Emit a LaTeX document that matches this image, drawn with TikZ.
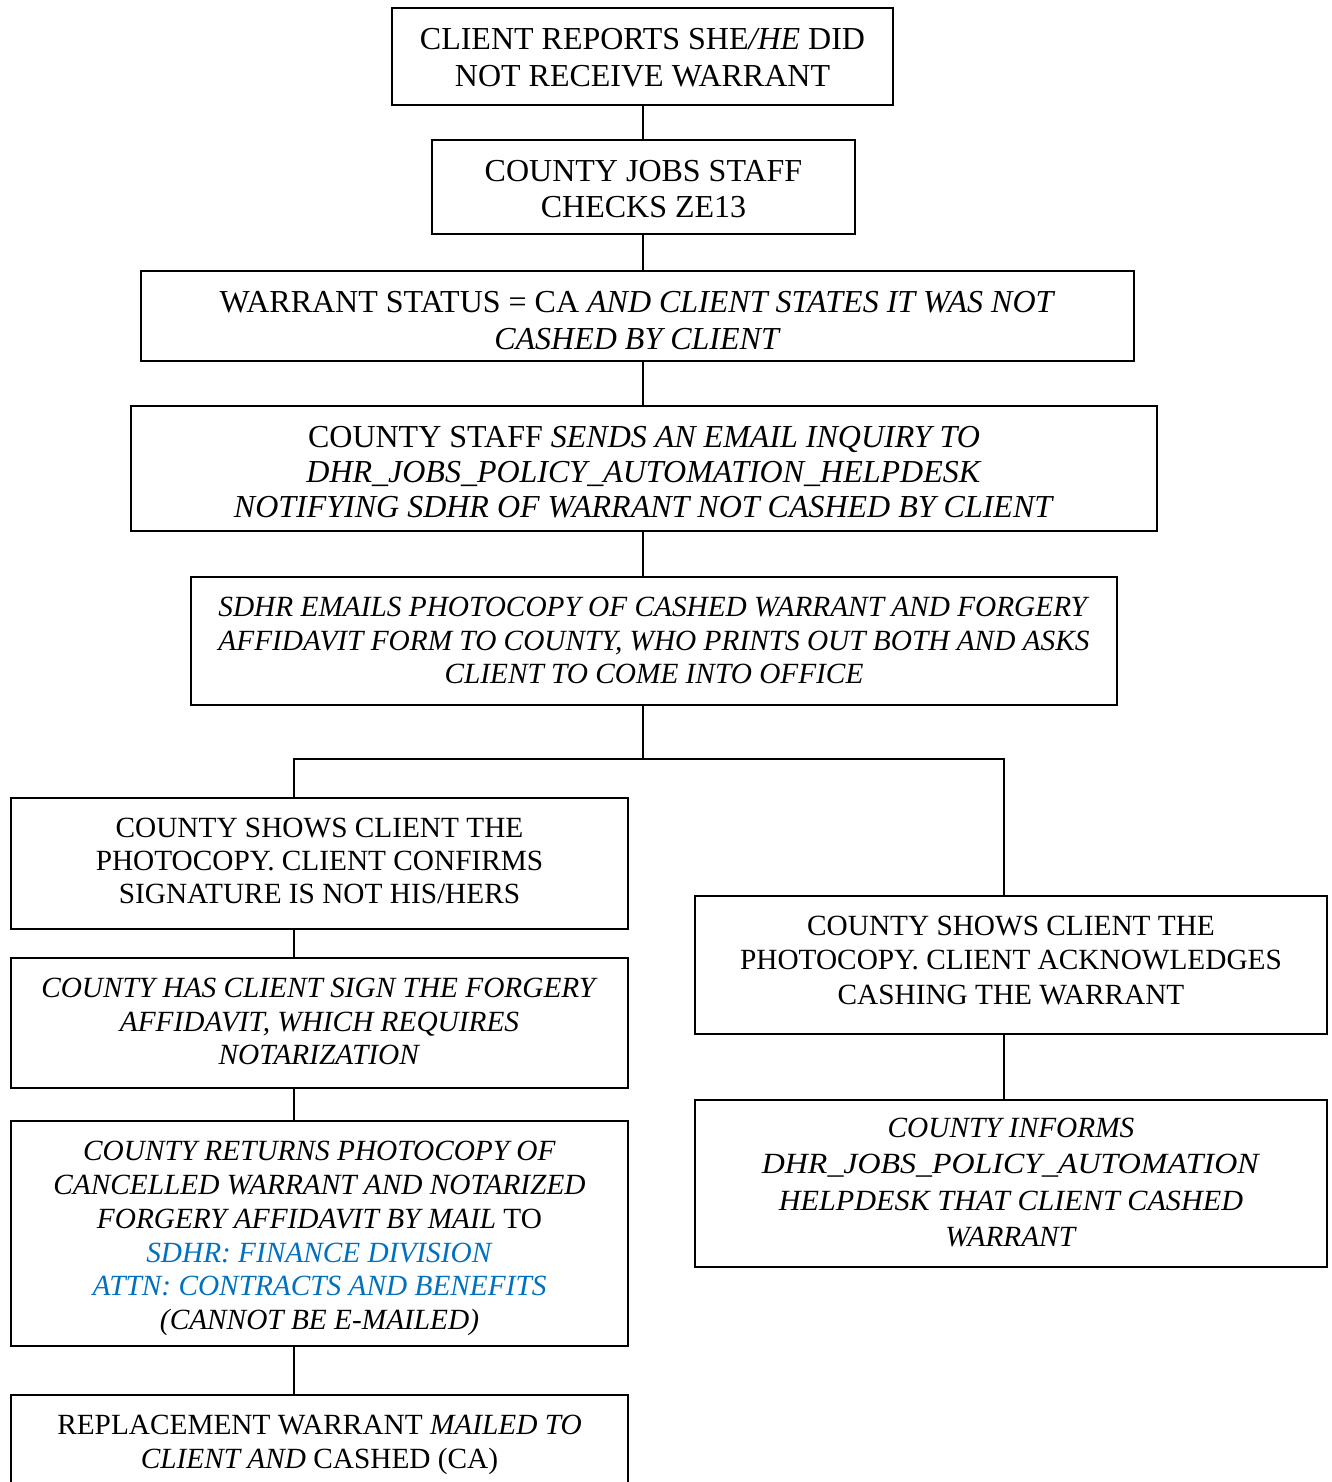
\documentclass[tikz,border=0pt]{standalone}
\usepackage{fontspec}
\usepackage{graphicx}
\setmainfont{Liberation Serif}
\definecolor{linkblue}{RGB}{0,112,192}
\newcommand{\tline}[1]{\smash{#1}}
\begin{document}
\begin{tikzpicture}[x=1pt,y=-1pt,
  box/.style={draw, line width=1.8pt, inner sep=0pt},
  txt/.style={inner sep=0pt, align=center, anchor=center, yshift=-1pt},
  big/.style={font=\fontsize{32}{#1}\selectfont},
  small/.style={font=\fontsize{29.3}{#1}\selectfont},
  conn/.style={line width=1.8pt}]
\clip (0,0) rectangle (1332,1482);
% boxes
\node[box,minimum width=501pt,minimum height=97pt] (B1) at (642.5,56.5) {};
\node[box,minimum width=423pt,minimum height=94pt] (B2) at (643.5,187) {};
\node[box,minimum width=993pt,minimum height=90pt] (B3) at (637.5,316) {};
\node[box,minimum width=1026pt,minimum height=125pt] (B4) at (644,468.5) {};
\node[box,minimum width=926pt,minimum height=128pt] (B5) at (654,641) {};
\node[box,minimum width=617pt,minimum height=131pt] (L1) at (319.5,863.5) {};
\node[box,minimum width=617pt,minimum height=130pt] (L2) at (319.5,1023) {};
\node[box,minimum width=617pt,minimum height=225pt] (L3) at (319.5,1233.5) {};
\node[box,minimum width=617pt,minimum height=92pt] (L4) at (319.5,1441) {};
\node[box,minimum width=632pt,minimum height=138pt] (R1) at (1011,965) {};
\node[box,minimum width=632pt,minimum height=167pt] (R2) at (1011,1183.5) {};
% texts
\node[txt,big=37] (B1t) at (642.5,67)
  {\tline{CLIENT REPORTS SHE\textit{/HE} DID}\\\tline{NOT RECEIVE WARRANT}};
\node[txt,big=36] (B2t) at (643.5,198.5)
  {\tline{COUNTY JOBS STAFF}\\\tline{CHECKS ZE13}};
\node[txt,big=37] (B3t) at (637.5,330)
  {\tline{WARRANT STATUS = CA \textit{AND CLIENT STATES IT WAS NOT}}\\\tline{\textit{CASHED BY CLIENT}}};
\node[txt,big=35.25] (B4t) at (644,481.25)
  {\tline{COUNTY STAFF \textit{SENDS AN EMAIL INQUIRY TO}}\\\tline{\textit{DHR\_JOBS\_POLICY\_AUTOMATION\_HELPDESK}}\\\tline{\textit{NOTIFYING SDHR OF WARRANT NOT CASHED BY CLIENT}}};
\node[txt,small=33.5] (B5t) at (654,649.1)
  {\tline{\textit{SDHR EMAILS PHOTOCOPY OF CASHED WARRANT AND FORGERY}}\\\tline{\textit{AFFIDAVIT FORM TO COUNTY, WHO PRINTS OUT BOTH AND ASKS}}\\\tline{\textit{CLIENT TO COME INTO OFFICE}}};
\node[txt,small=33] (L1t) at (319.5,869.6)
  {\tline{COUNTY SHOWS CLIENT THE}\\\tline{PHOTOCOPY. CLIENT CONFIRMS}\\\tline{SIGNATURE IS NOT HIS/HERS}};
\node[txt,small=33.5] (L2t) at (319.5,1030.1)
  {\tline{\textit{COUNTY HAS CLIENT SIGN THE FORGERY}}\\\tline{\textit{AFFIDAVIT, WHICH REQUIRES}}\\\tline{\textit{NOTARIZATION}}};
\node[txt,small=33.8] (L3t) at (319.5,1244.1)
  {\tline{\textit{COUNTY RETURNS PHOTOCOPY OF}}\\\tline{\textit{CANCELLED WARRANT AND NOTARIZED}}\\\tline{\textit{FORGERY AFFIDAVIT BY MAIL} TO}\\\tline{\textcolor{linkblue}{\textit{SDHR: FINANCE DIVISION}}}\\\tline{\textcolor{linkblue}{\textit{ATTN: CONTRACTS AND BENEFITS}}}\\\tline{\textit{(CANNOT BE E-MAILED)}}};
\node[txt,small=34] (L4t) at (319.5,1450.6)
  {\tline{REPLACEMENT WARRANT \textit{MAILED TO}}\\\tline{\textit{CLIENT AND} CASHED (CA)}};
\node[txt,small=34.25] (R1t) at (1011,968.85)
  {\tline{COUNTY SHOWS CLIENT THE}\\\tline{PHOTOCOPY. CLIENT ACKNOWLEDGES}\\\tline{CASHING THE WARRANT}};
\node[txt,small=36.33] (R2t) at (1011,1191.1)
  {\tline{\textit{COUNTY INFORMS}}\\\tline{\scalebox{1.09}[1]{\textit{DHR\_JOBS\_POLICY\_AUTOMATION}}}\\\tline{\scalebox{1.03}[1]{\textit{HELPDESK THAT CLIENT CASHED}}}\\\tline{\textit{WARRANT}}};
% connectors
\coordinate (spine) at (643,0);
\coordinate (lx) at (294,0);
\coordinate (rx) at (1004,0);
\coordinate (br) at (643,759);
\draw[conn] (spine |- B1.south) -- (spine |- B2.north);
\draw[conn] (spine |- B2.south) -- (spine |- B3.north);
\draw[conn] (spine |- B3.south) -- (spine |- B4.north);
\draw[conn] (spine |- B4.south) -- (spine |- B5.north);
\draw[conn] (spine |- B5.south) -- (br);
\draw[conn] (lx |- L1.north) -- (lx |- br) -- (rx |- br) -- (rx |- R1.north);
\draw[conn] (lx |- L1.south) -- (lx |- L2.north);
\draw[conn] (lx |- L2.south) -- (lx |- L3.north);
\draw[conn] (lx |- L3.south) -- (lx |- L4.north);
\draw[conn] (rx |- R1.south) -- (rx |- R2.north);
\end{tikzpicture}
\end{document}
